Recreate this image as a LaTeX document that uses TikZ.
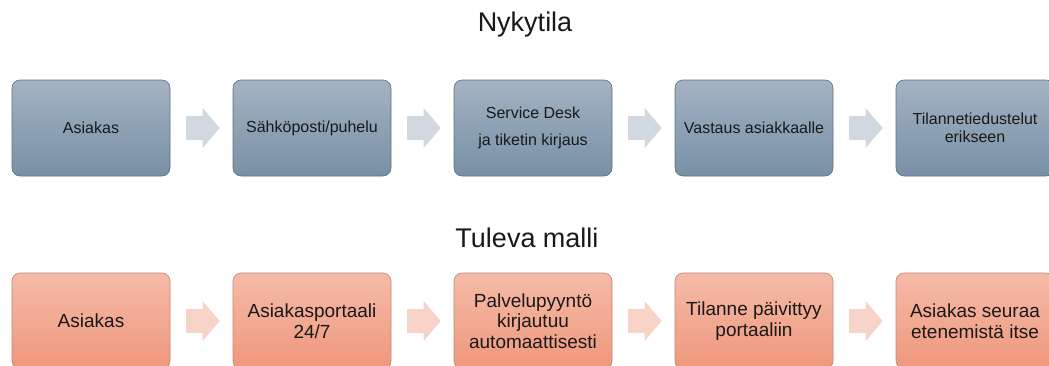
\documentclass[tikz,border=0pt]{standalone}
\usepackage{fontspec}
\setmainfont{Liberation Sans}
\usepackage{xcolor}
\usepackage{tikz}
\usetikzlibrary{arrows.meta, positioning}
\definecolor{nowtop}{HTML}{A3B3C3}
\definecolor{nowbot}{HTML}{7890A6}
\definecolor{nowline}{HTML}{606E7C}
\definecolor{nowarrow}{HTML}{D2D8DF}
\definecolor{futtop}{HTML}{F5BBA8}
\definecolor{futbot}{HTML}{EF977C}
\definecolor{futline}{HTML}{C08676}
\definecolor{futarrow}{HTML}{F8D4C8}

\begin{document}
\begin{tikzpicture}[
    x=1pt, y=1pt,
    stage/.style={draw=#1line, rounded corners=8pt, minimum width=158pt, minimum height=96pt, align=center, top color=#1top, bottom color=#1bot, text=black!90, line width=0.6pt},
    nowbox/.style={stage=now, font=\fontsize{16}{18}\selectfont},
    futbox/.style={stage=fut, font=\fontsize{19}{20.5}\selectfont},
    flow/.style={line width=24pt, draw=#1, -{Triangle[length=17pt, width=39pt]}, shorten <=16pt, shorten >=13pt},
    heading/.style={font=\fontsize{27}{30}\selectfont, text=black!90},
]
\useasboundingbox (0,0) rectangle (1049,365);

\node[heading] (now) at (525,340) {Nykytila};
\node[heading] (future) at (527,127) {Tuleva malli};

% Nykytila
\node[nowbox] (n1) at (91,237) {Asiakas};
\node[nowbox, right=62.4pt of n1] (n2) {Sähköposti/puhelu};
\node[nowbox, right=62.4pt of n2] (n3) {Service Desk\\[9pt]ja tiketin kirjaus};
\node[nowbox, right=62.4pt of n3] (n4) {Vastaus asiakkaalle};
\node[nowbox, right=62.4pt of n4] (n5) {Tilannetiedustelut\\erikseen};

% Tuleva malli
\node[futbox] (f1) at (91,44) {Asiakas};
\node[futbox, right=62.4pt of f1] (f2) {Asiakasportaali\\24/7};
\node[futbox, right=62.4pt of f2] (f3) {Palvelupyyntö\\kirjautuu\\automaattisesti};
\node[futbox, right=62.4pt of f3] (f4) {Tilanne päivittyy\\portaaliin};
\node[futbox, right=62.4pt of f4] (f5) {Asiakas seuraa\\etenemistä itse};

% Arrows
\foreach \a/\b in {1/2, 2/3, 3/4, 4/5} {
  \draw[flow=nowarrow] (n\a) -- (n\b);
  \draw[flow=futarrow] (f\a) -- (f\b);
}

\end{tikzpicture}
\end{document}
